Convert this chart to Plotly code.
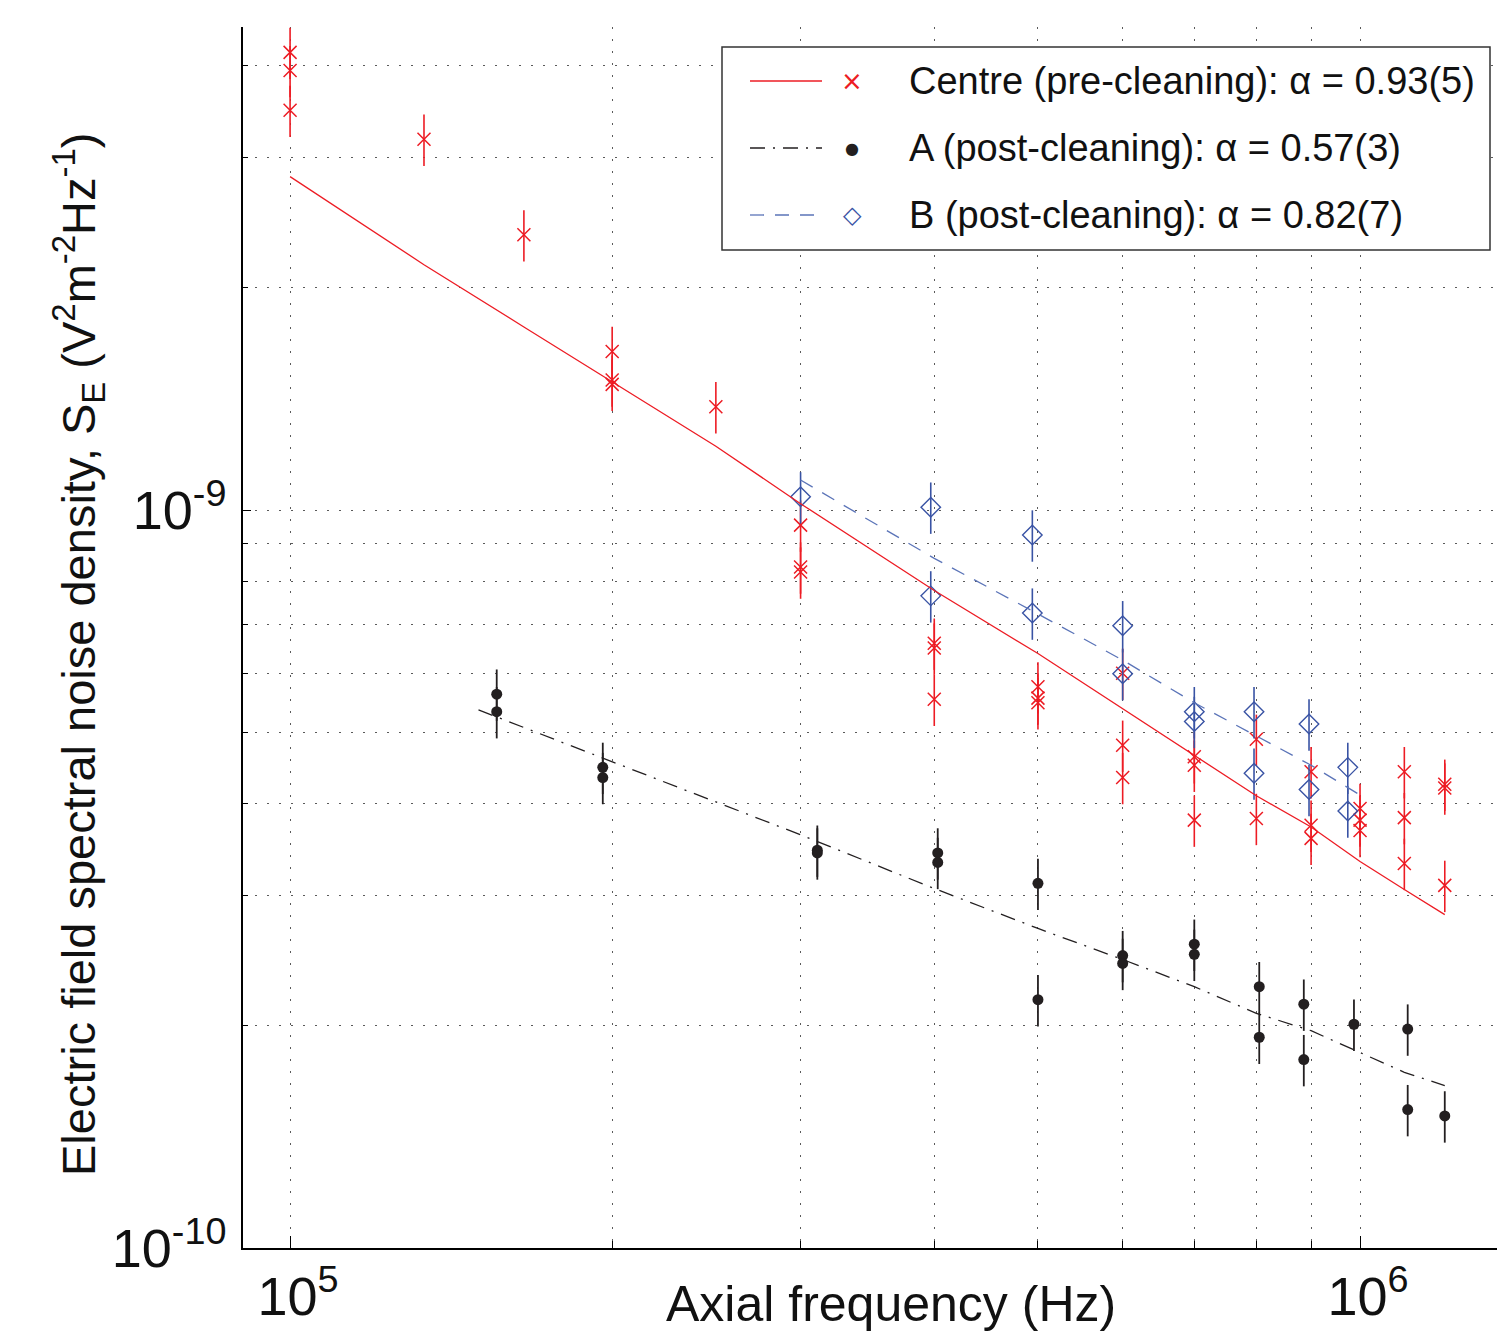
import plotly.graph_objects as go

# ---------------- data ----------------
centre_f = [1e5, 1e5, 1e5, 1.334e5, 1.654e5, 2e5, 2e5, 2e5, 2.5e5,
            3e5, 3e5, 3e5, 4e5, 4e5, 4e5, 5e5, 5e5, 5e5, 6e5, 6e5, 6e5,
            7e5, 7e5, 7e5, 8e5, 8e5, 9e5, 9e5, 9e5, 1e6, 1e6, 1e6,
            1.1e6, 1.1e6, 1.1e6, 1.2e6, 1.2e6, 1.2e6]
centre_S = [4.17e-9, 3.94e-9, 3.48e-9, 3.18e-9, 2.36e-9, 1.64e-9, 1.50e-9, 1.48e-9, 1.38e-9,
            9.54e-10, 8.37e-10, 8.24e-10, 6.60e-10, 6.50e-10, 5.54e-10, 5.76e-10, 5.56e-10, 5.48e-10,
            6.01e-10, 4.80e-10, 4.34e-10, 4.63e-10, 4.51e-10, 3.80e-10, 4.89e-10, 3.82e-10,
            4.42e-10, 3.74e-10, 3.59e-10, 3.94e-10, 3.80e-10, 3.68e-10,
            4.42e-10, 3.83e-10, 3.32e-10, 4.25e-10, 4.20e-10, 3.10e-10]

A_f = [1.56e5, 1.56e5, 1.96e5, 1.96e5, 3.11e5, 3.11e5, 4.03e5, 4.03e5, 5e5, 5e5,
       6e5, 6e5, 7e5, 7e5, 8.05e5, 8.05e5, 8.86e5, 8.86e5, 9.87e5, 1.108e6, 1.108e6, 1.2e6]
A_S = [5.63e-10, 5.33e-10, 4.48e-10, 4.34e-10, 3.46e-10, 3.43e-10, 3.43e-10, 3.33e-10,
       3.12e-10, 2.17e-10, 2.49e-10, 2.43e-10, 2.58e-10, 2.50e-10, 2.26e-10, 1.93e-10,
       2.14e-10, 1.80e-10, 2.01e-10, 1.98e-10, 1.54e-10, 1.51e-10]

B_f = [3e5, 3.97e5, 3.97e5, 4.94e5, 4.94e5, 6e5, 6e5, 7e5, 7e5, 7.96e5, 7.96e5,
       8.96e5, 8.96e5, 9.74e5, 9.74e5]
B_S = [1.042e-9, 1.009e-9, 7.65e-10, 9.25e-10, 7.25e-10, 6.97e-10, 6.00e-10,
       5.33e-10, 5.17e-10, 5.33e-10, 4.40e-10, 5.13e-10, 4.18e-10, 4.48e-10, 3.91e-10]

err_percent = 8  # relative uncertainty of each measurement

centre_fit_f = [1e5, 1.334e5, 1.654e5, 2e5, 2.5e5, 3e5, 4e5, 5e5, 6e5, 7e5, 8e5, 9e5, 1e6, 1.1e6, 1.2e6]
centre_fit_S = [2.83e-9, 2.15e-9, 1.77e-9, 1.49e-9, 1.22e-9, 1.02e-9, 7.78e-10, 6.39e-10,
                5.38e-10, 4.64e-10, 4.10e-10, 3.72e-10, 3.34e-10, 3.06e-10, 2.83e-10]
A_fit_f = [1.5e5, 2e5, 3e5, 4e5, 5e5, 6e5, 7e5, 8e5, 9e5, 1e6, 1.1e6, 1.2e6]
A_fit_S = [5.36e-10, 4.56e-10, 3.63e-10, 3.07e-10, 2.71e-10, 2.46e-10, 2.26e-10,
           2.08e-10, 1.97e-10, 1.84e-10, 1.73e-10, 1.66e-10]
B_fit_f = [3e5, 4e5, 5e5, 6e5, 7e5, 8e5, 9e5, 1e6]
B_fit_S = [1.098e-9, 8.60e-10, 7.23e-10, 6.26e-10, 5.48e-10, 4.94e-10, 4.51e-10, 4.11e-10]

legend_labels = ["Centre (pre-cleaning): \u03b1 = 0.93(5)",
                 "A (post-cleaning): \u03b1 = 0.57(3)",
                 "B (post-cleaning): \u03b1 = 0.82(7)"]

x_major = [1e5, 1e6]
x_major_text = ["10<sup>5</sup>", "10<sup>6</sup>"]
x_minor = [2e5, 3e5, 4e5, 5e5, 6e5, 7e5, 8e5, 9e5]
y_major = [1e-10, 1e-9]
y_major_text = ["10<sup>-10</sup>", "10<sup>-9</sup>"]
y_minor = [2e-10, 3e-10, 4e-10, 5e-10, 6e-10, 7e-10, 8e-10, 9e-10, 2e-9, 3e-9, 4e-9]

# ---------------- styling ----------------
RED = "#ED1C24"
BLACK = "#231F20"
BLUE = "#3953A4"
BLUE_LINE = "#5B74B8"
FONT = "Liberation Sans, Arial, Helvetica, sans-serif"
GRID = "#5a5a5a"
DOTS = "2px,10px"
DASHDOT = "15px,8px,2px,8px"
DASH = "14px,11px"

fig = go.Figure()

fig.add_trace(go.Scatter(
    x=centre_f, y=centre_S, mode="markers",
    marker=dict(symbol="x-thin", size=13, line=dict(color=RED, width=1.5), color=RED),
    error_y=dict(type="percent", value=err_percent, color=RED, thickness=1.6, width=0),
    showlegend=False, hoverinfo="x+y"))
fig.add_trace(go.Scatter(
    x=A_f, y=A_S, mode="markers",
    marker=dict(symbol="circle", size=11, color=BLACK),
    error_y=dict(type="percent", value=err_percent, color=BLACK, thickness=1.8, width=0),
    showlegend=False, hoverinfo="x+y"))
fig.add_trace(go.Scatter(
    x=B_f, y=B_S, mode="markers",
    marker=dict(symbol="diamond-open", size=15, line=dict(color=BLUE, width=1.4), color=BLUE),
    error_y=dict(type="percent", value=err_percent, color=BLUE, thickness=1.6, width=0),
    showlegend=False, hoverinfo="x+y"))

fig.add_trace(go.Scatter(x=centre_fit_f, y=centre_fit_S, mode="lines",
                         line=dict(color=RED, width=1.3), showlegend=False, hoverinfo="skip"))
fig.add_trace(go.Scatter(x=A_fit_f, y=A_fit_S, mode="lines",
                         line=dict(color=BLACK, width=1.3, dash=DASHDOT), showlegend=False,
                         hoverinfo="skip"))
fig.add_trace(go.Scatter(x=B_fit_f, y=B_fit_S, mode="lines",
                         line=dict(color=BLUE_LINE, width=1.3, dash=DASH), showlegend=False,
                         hoverinfo="skip"))

W, H = 1498, 1331
ml, mr, mt, mb = 243, 1, 27, 83
pw, ph = W - ml - mr, H - mt - mb


def px(xp):
    return (xp - ml) / pw


def py(yp):
    return (H - mb - yp) / ph


fig.update_xaxes(type="log", range=[4.956, 6.128], tickmode="array",
                 tickvals=x_major, ticktext=x_major_text,
                 ticks="inside", ticklen=12, tickcolor="black", tickwidth=1,
                 showgrid=True, gridcolor=GRID, gridwidth=1, griddash=DOTS,
                 minor=dict(tickmode="array", tickvals=x_minor, ticks="inside", ticklen=7,
                            tickcolor="black", showgrid=True, gridcolor=GRID, gridwidth=1,
                            griddash=DOTS),
                 showline=True, linecolor="black", linewidth=1.5, mirror=False,
                 zeroline=False, tickfont=dict(family=FONT, size=54, color="#111"),
                 ticklabelstandoff=0, ticklabelshift=8)
fig.update_yaxes(type="log", range=[-10, -8.3455], tickmode="array",
                 tickvals=y_major, ticktext=y_major_text,
                 ticks="inside", ticklen=8, tickcolor="black", tickwidth=1,
                 showgrid=True, gridcolor=GRID, gridwidth=1, griddash=DOTS,
                 minor=dict(tickmode="array", tickvals=y_minor, ticks="inside", ticklen=5,
                            tickcolor="black", showgrid=True, gridcolor=GRID, gridwidth=1,
                            griddash=DOTS),
                 showline=True, linecolor="black", linewidth=1.5, mirror=False,
                 zeroline=False, tickfont=dict(family=FONT, size=54, color="#111"),
                 ticklabelstandoff=4)

# ---------------- legend (drawn manually, MATLAB style) ----------------
shapes = [dict(type="rect", xref="paper", yref="paper",
               x0=px(722), x1=px(1490), y0=py(250), y1=py(47),
               line=dict(color="#333", width=1.5), fillcolor="white", layer="above")]
row_y = [81, 148, 215]
line_styles = [dict(color=RED, width=1.3),
               dict(color=BLACK, width=1.3, dash=DASHDOT),
               dict(color=BLUE_LINE, width=1.3, dash=DASH)]
for yy, ls in zip(row_y, line_styles):
    shapes.append(dict(type="line", xref="paper", yref="paper",
                       x0=px(750), x1=px(822), y0=py(yy), y1=py(yy), line=ls, layer="above"))

annotations = []
glyphs = [("\u00d7", RED, 26), ("\u25cf", BLACK, 16), ("\u25c7", BLUE, 24)]
for yy, (g, c, s), lab in zip(row_y, glyphs, legend_labels):
    annotations.append(dict(xref="paper", yref="paper", x=px(852), y=py(yy), text=g,
                            showarrow=False, font=dict(family="DejaVu Sans", size=s, color=c),
                            xanchor="center", yanchor="middle"))
    annotations.append(dict(xref="paper", yref="paper", x=px(907), y=py(yy), text=lab,
                            showarrow=False, font=dict(family=FONT, size=38, color="#111"),
                            xanchor="left", yanchor="middle"))

# axis titles
annotations.append(dict(xref="paper", yref="paper", x=px(891), y=py(1304),
                        text="Axial frequency (Hz)", showarrow=False,
                        font=dict(family=FONT, size=50, color="#111"),
                        xanchor="center", yanchor="middle"))
annotations.append(dict(xref="paper", yref="paper", x=px(78), y=py(655),
                        text="Electric field spectral noise density, S<sub>E</sub> "
                             "(V<sup>2</sup>m<sup>-2</sup>Hz<sup>-1</sup>)",
                        showarrow=False, textangle=-90,
                        font=dict(family=FONT, size=47, color="#111"),
                        xanchor="center", yanchor="middle"))

fig.update_layout(width=W, height=H, margin=dict(l=ml, r=mr, t=mt, b=mb, autoexpand=False),
                  plot_bgcolor="white", paper_bgcolor="white",
                  shapes=shapes, annotations=annotations, showlegend=False,
                  font=dict(family=FONT))

fig.write_html("out.html", config={"displayModeBar": False},
               post_script="document.body.style.margin='0px';"
                           "document.body.style.overflow='hidden';")
